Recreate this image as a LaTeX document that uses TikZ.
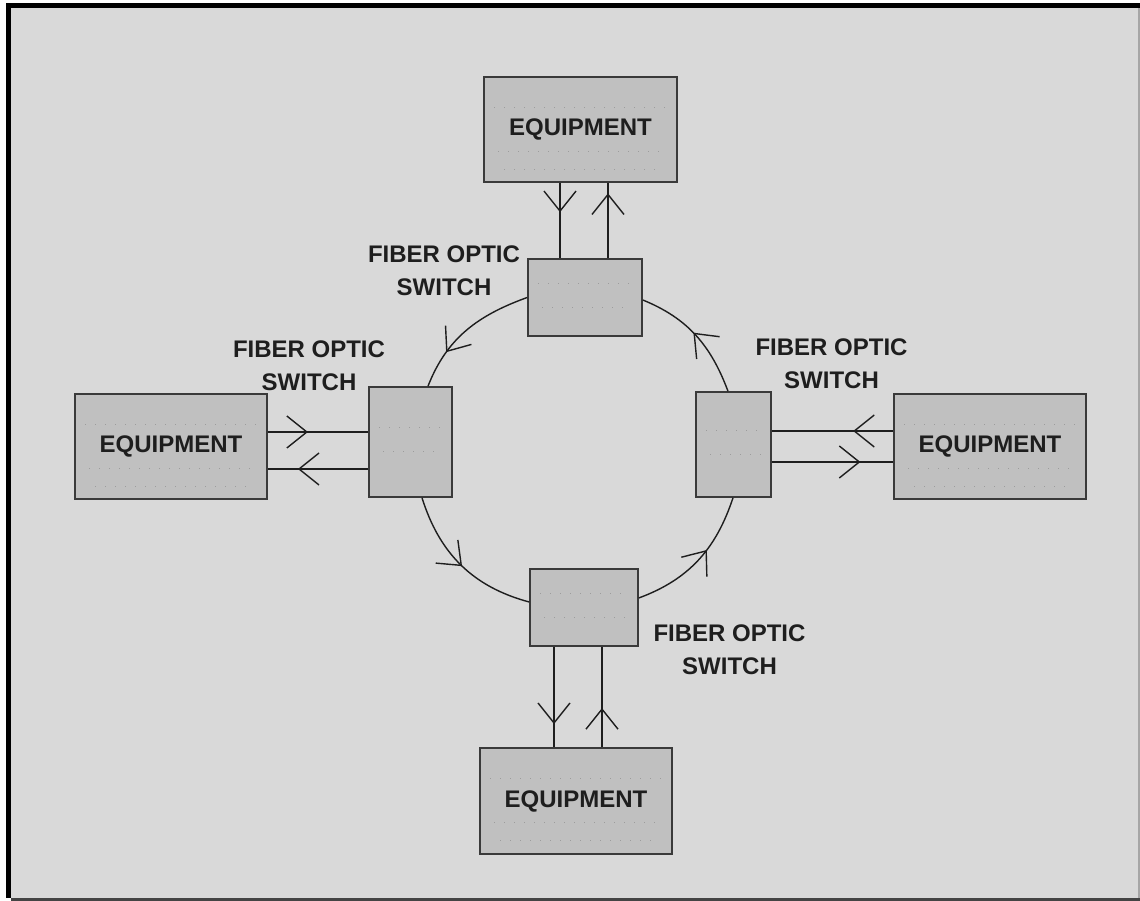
\documentclass[tikz,border=0pt]{standalone}
\usepackage{fontspec}
\setmainfont{Liberation Sans}
\usetikzlibrary{arrows.meta,decorations.markings,calc}
\definecolor{bg}{HTML}{D9D9D9}
\definecolor{boxfill}{HTML}{C0C0C0}
\definecolor{boxline}{HTML}{3A3A3A}
\definecolor{ink}{HTML}{1E1E1E}
\definecolor{speck}{HTML}{9C9C9C}
\definecolor{edge}{HTML}{444444}
\tikzset{
  eqbox/.style={draw=boxline, fill=boxfill, line width=1.6pt, rectangle, inner sep=0pt,
    minimum width=192pt, minimum height=105pt, font=\fontsize{24}{28}\selectfont\bfseries, text=ink,
    path picture={
      \draw[speck, line width=1pt, dash pattern=on 1pt off 9pt]
        ($(path picture bounding box.west)+(10pt,22pt)$) -- ($(path picture bounding box.east)+(-10pt,22pt)$)
        ($(path picture bounding box.west)+(14pt,-22pt)$) -- ($(path picture bounding box.east)+(-10pt,-22pt)$)
        ($(path picture bounding box.west)+(20pt,-40pt)$) -- ($(path picture bounding box.east)+(-20pt,-40pt)$);
    }},
  swbox/.style={draw=boxline, fill=boxfill, line width=1.6pt, rectangle, inner sep=0pt,
    path picture={
      \draw[speck, line width=1pt, dash pattern=on 1pt off 9pt]
        ($(path picture bounding box.west)+(10pt,14pt)$) -- ($(path picture bounding box.east)+(-10pt,14pt)$)
        ($(path picture bounding box.west)+(14pt,-10pt)$) -- ($(path picture bounding box.east)+(-10pt,-10pt)$);
    }},
  lbl/.style={font=\fontsize{24}{33}\selectfont\bfseries, text=ink, align=center, inner sep=0pt},
  fiber/.style={draw=ink, line width=1.4pt},
  midarrow/.style={decoration={markings, mark=at position #1 with {\arrow{Straight Barb[length=20pt,width=32pt,line width=1.4pt]}}}, postaction={decorate}},
}
\begin{document}
\begin{tikzpicture}[x=1pt,y=1pt]
% frame
\fill[white] (0,0) rectangle (1140,901);
\useasboundingbox (0,0) rectangle (1140,901);
\fill[bg] (11,3) rectangle (1140,893);
\fill[black] (6,3) rectangle (11,898);
\fill[black] (6,893) rectangle (1140,898);
\fill[edge] (11,0) rectangle (1140,3);
\fill[gray!70] (1138,3) rectangle (1140,893);

% equipment boxes
\node[eqbox, minimum width=193pt] (teq) at (580.5,771.5) {EQUIPMENT};
\node[eqbox] (leq) at (171,454.5) {EQUIPMENT};
\node[eqbox] (req) at (990,454.5) {EQUIPMENT};
\node[eqbox, minimum height=106pt] (beq) at (576,100) {EQUIPMENT};

% switches
\node[swbox, minimum width=114pt, minimum height=77pt] (tsw) at (585,603.5) {};
\node[swbox, minimum width=83pt, minimum height=110pt] (lsw) at (410.5,459) {};
\node[swbox, minimum width=75pt, minimum height=105pt] (rsw) at (733.5,456.5) {};
\node[swbox, minimum width=108pt, minimum height=77pt] (bsw) at (584,293.5) {};

% labels
\node[lbl] (tlab) at (444,630.5) {FIBER OPTIC\\SWITCH};
\node[lbl] (llab) at (309,535.5) {FIBER OPTIC\\SWITCH};
\node[lbl] (rlab) at (831.5,537) {FIBER OPTIC\\SWITCH};
\node[lbl] (blab) at (729.5,251) {FIBER OPTIC\\SWITCH};

% top links
\draw[fiber, midarrow=0.39] ([xshift=-20.5pt]teq.south) -- ([xshift=-20.5pt]teq.south |- tsw.north);
\draw[fiber, midarrow=0.86] ([xshift=27.5pt]teq.south |- tsw.north) -- ([xshift=27.5pt]teq.south);
% left links
\draw[fiber, midarrow=0.40] ([yshift=14.5pt]leq.east) -- ([yshift=14.5pt]leq.east -| lsw.west);
\draw[fiber, midarrow=0.70] ([yshift=-22.5pt]leq.east -| lsw.west) -- ([yshift=-22.5pt]leq.east);
% right links
\draw[fiber, midarrow=0.33] ([yshift=15.5pt]req.west) -- ([yshift=15.5pt]req.west -| rsw.east);
\draw[fiber, midarrow=0.73] ([yshift=-15.5pt]req.west -| rsw.east) -- ([yshift=-15.5pt]req.west);
% bottom links
\draw[fiber, midarrow=0.77] ([xshift=-30pt]bsw.south) -- ([xshift=-30pt]bsw.south |- beq.north);
\draw[fiber, midarrow=0.39] ([xshift=18pt]bsw.south |- beq.north) -- ([xshift=18pt]bsw.south);

% ring
\draw[fiber, midarrow=0.72] (tsw.west) to[out=199.9,in=68.7] ([xshift=17.5pt]lsw.north);
\draw[fiber, midarrow=0.51] ([xshift=11.5pt]lsw.south) to[out=287.4,in=165] ([yshift=5.5pt]bsw.west);
\draw[fiber, midarrow=0.59] ([yshift=9.5pt]bsw.east) to[out=20.3,in=251.7] ([xshift=-0.5pt]rsw.south);
\draw[fiber, midarrow=0.53] ([xshift=-5.5pt]rsw.north) to[out=110.6,in=337.8] ([yshift=-2.5pt]tsw.east);
\end{tikzpicture}
\end{document}
